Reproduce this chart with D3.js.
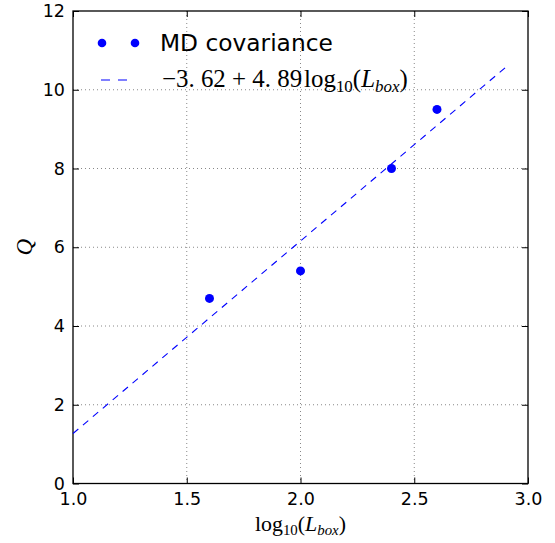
<!DOCTYPE html>
<html><head><meta charset="utf-8">
<script src="https://cdn.jsdelivr.net/npm/d3@7"></script>
<style>body{margin:0;background:#fff}</style>
</head><body>
<svg id="c" width="555" height="543"></svg>
<script>
const xData = [1.6, 2.0, 2.4, 2.6];
const yData = [4.7, 5.4, 8.0, 9.5];
const fitIntercept = -3.62, fitSlope = 4.89;
const fitRange = [1.0, 2.9];
const xTicks = [1.0, 1.5, 2.0, 2.5, 3.0];
const yTicks = [0, 2, 4, 6, 8, 10, 12];

(function () {
const svg = d3.select("#c");
const L = 73, R = 528, T = 11, B = 483.5;
const x = d3.scaleLinear().domain([1, 3]).range([L, R]);
const y = d3.scaleLinear().domain([0, 12]).range([B, T]);
const SERIF = "Liberation Serif, DejaVu Serif, serif";

// grid
const g = svg.append("g");
g.selectAll(".gx").data(xTicks.slice(1, -1)).enter().append("line")
  .attr("x1", d => x(d)).attr("x2", d => x(d)).attr("y1", T).attr("y2", B)
  .attr("stroke", "#888").attr("stroke-width", 1).attr("stroke-dasharray", "1,3");
g.selectAll(".gy").data(yTicks.slice(1, -1)).enter().append("line")
  .attr("y1", d => y(d)).attr("y2", d => y(d)).attr("x1", L).attr("x2", R)
  .attr("stroke", "#888").attr("stroke-width", 1).attr("stroke-dasharray", "1,3");

// axes (ticks inward, both sides)
const ax = (gen, tr) => svg.append("g").attr("transform", tr).call(gen);
const fmtX = d3.format(".1f");
const axB = ax(d3.axisBottom(x).tickValues(xTicks).tickFormat(fmtX).tickSizeInner(-6).tickSizeOuter(0).tickPadding(6), `translate(0,${B})`);
const axT = ax(d3.axisTop(x).tickValues(xTicks).tickFormat("").tickSizeInner(-6).tickSizeOuter(0), `translate(0,${T})`);
const axL = ax(d3.axisLeft(y).tickValues(yTicks).tickFormat(d3.format("d")).tickSizeInner(-6).tickSizeOuter(0).tickPadding(8), `translate(${L},0)`);
const axR = ax(d3.axisRight(y).tickValues(yTicks).tickFormat("").tickSizeInner(-6).tickSizeOuter(0), `translate(${R},0)`);
[axB, axT, axL, axR].forEach(a => {
  a.select(".domain").remove();
  a.selectAll("line").attr("stroke", "#000");
  a.selectAll("text").attr("font-family", "DejaVu Sans").attr("font-size", 17.5).attr("fill", "#000");
});
axB.selectAll("text").attr("dy", "0.9em");

// frame
svg.append("rect").attr("x", L).attr("y", T).attr("width", R - L).attr("height", B - T)
  .attr("fill", "none").attr("stroke", "#000").attr("stroke-width", 1.3);

// fit line
const line = d3.line().x(d => x(d)).y(d => y(fitIntercept + fitSlope * d));
svg.append("path").datum(fitRange).attr("d", line)
  .attr("fill", "none").attr("stroke", "#0000ff").attr("stroke-width", 1.1)
  .attr("stroke-dasharray", "7,6");

// points
svg.selectAll(".pt").data(xData).enter().append("circle")
  .attr("cx", d => x(d)).attr("cy", (d, i) => y(yData[i])).attr("r", 4.5)
  .attr("fill", "#0000ff");

// helper: math-like text, fitted to a target width
function mathText(parent, px, py, size, parts, targetW) {
  const t = parent.append("text").attr("x", px).attr("y", py).attr("font-family", SERIF).attr("font-size", size);
  parts.forEach(p => {
    const s = t.append("tspan").text(p.t);
    if (p.it) s.attr("font-style", "italic");
    if (p.sub) s.attr("font-size", size * 0.68).attr("dy", size * 0.2);
    if (p.up) s.attr("dy", -size * 0.2);
    if (p.dx) s.attr("dx", p.dx);
  });
  const w = t.node().getBBox().width;
  if (targetW && w > 0) {
    const ns = size * targetW / w;
    t.attr("font-size", ns);
    t.selectAll("tspan").each(function (d, i) {
      const p = parts[i];
      const s = d3.select(this);
      if (p.sub) s.attr("font-size", ns * 0.68).attr("dy", ns * 0.2);
      if (p.up) s.attr("dy", -ns * 0.2);
    });
  }
  return t;
}

// legend
const lg = svg.append("g");
lg.append("circle").attr("cx", 102).attr("cy", 43).attr("r", 4.3).attr("fill", "#0000ff");
lg.append("circle").attr("cx", 135).attr("cy", 43).attr("r", 4.3).attr("fill", "#0000ff");
lg.append("text").attr("x", 160).attr("y", 51).attr("font-family", "DejaVu Sans").attr("font-size", 23.3)
  .text("MD covariance");
lg.append("line").attr("x1", 101).attr("x2", 128).attr("y1", 80).attr("y2", 80)
  .attr("stroke", "#0000ff").attr("stroke-width", 1.2).attr("stroke-dasharray", "9,8");
mathText(lg, 162, 87, 23, [
  {t: "\u22123. 62 + 4. 89"}, {t: "log", dx: 2}, {t: "10", sub: true}, {t: "(", up: true},
  {t: "L", it: true}, {t: "box", it: true, sub: true}, {t: ")", up: true}
], 246);

// axis labels
mathText(svg, 255, 531, 19, [
  {t: "log"}, {t: "10", sub: true}, {t: "(", up: true},
  {t: "L", it: true}, {t: "box", it: true, sub: true}, {t: ")", up: true}
], 91);

svg.append("text").attr("transform", `translate(32,${y(6)}) rotate(-90)`).attr("text-anchor", "middle")
  .attr("font-family", SERIF).attr("font-style", "italic").attr("font-size", 23)
  .text("Q");
})();
</script>
</body></html>
